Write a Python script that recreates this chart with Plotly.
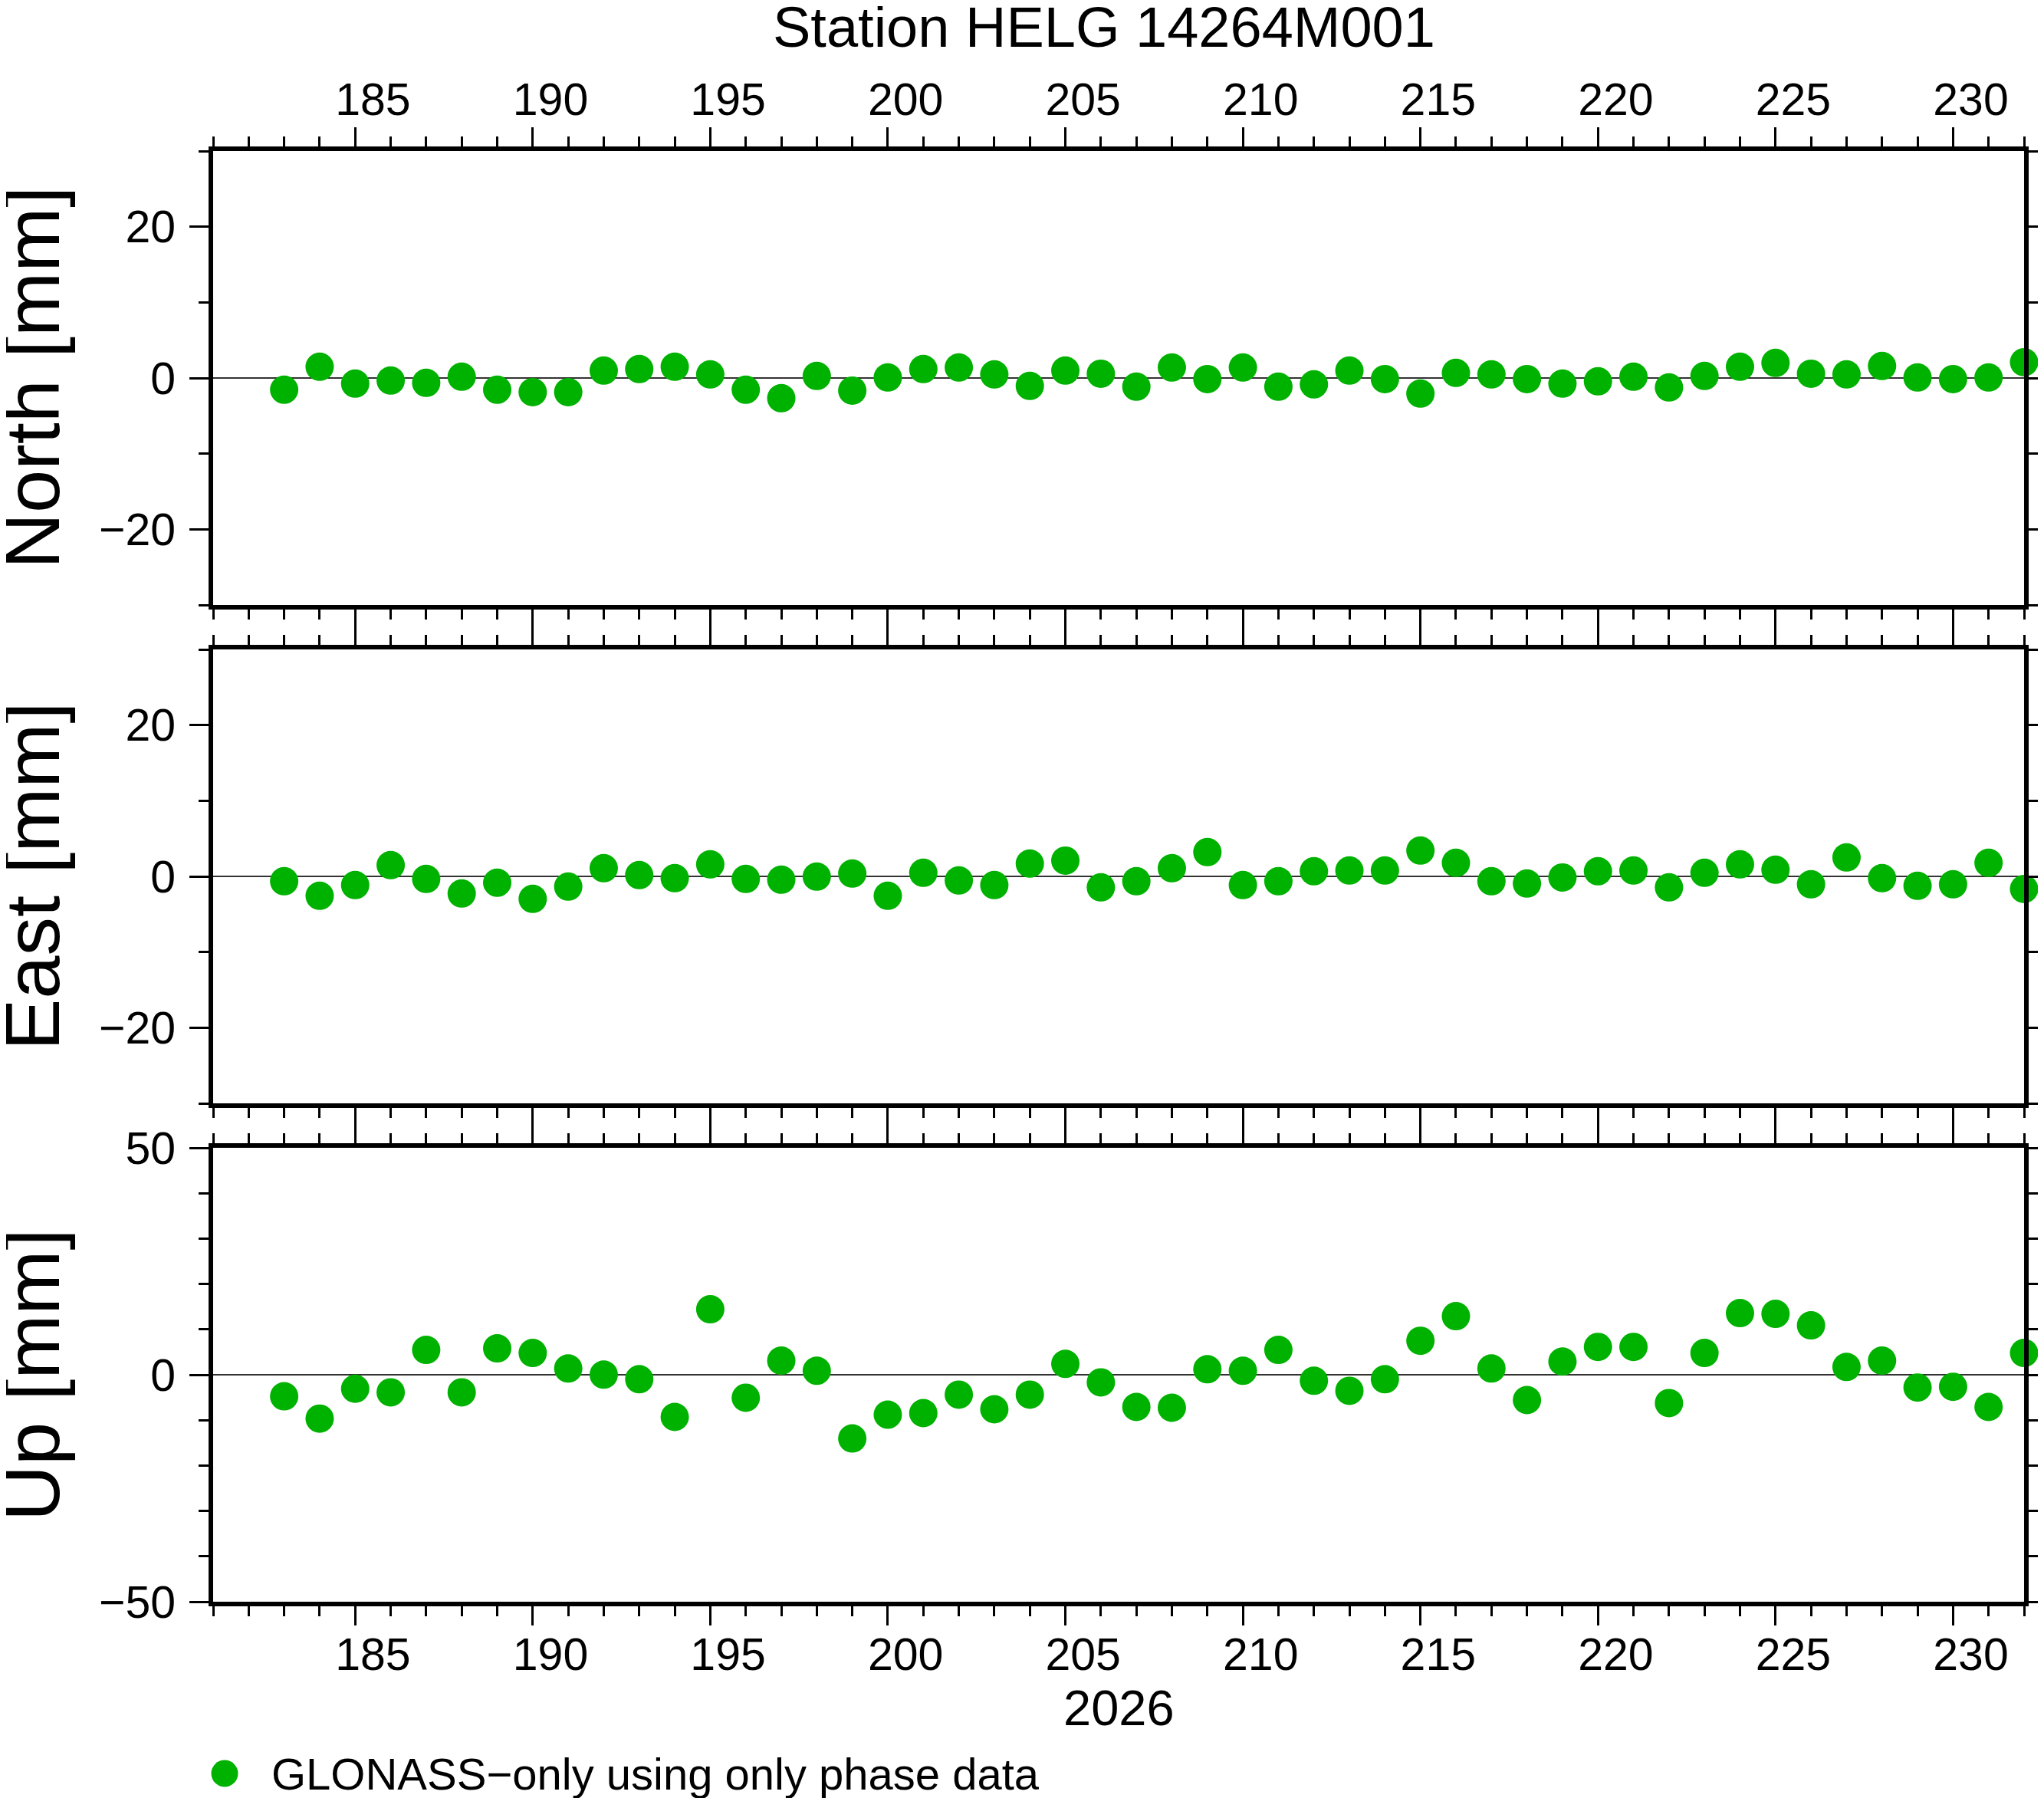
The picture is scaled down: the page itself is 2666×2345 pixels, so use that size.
import plotly.graph_objects as go

# ---- data ----
days = [183, 184, 185, 186, 187, 188, 189, 190, 191, 192, 193, 194, 195, 196, 197, 198,
        199, 200, 201, 202, 203, 204, 205, 206, 207, 208, 209, 210, 211, 212, 213, 214, 215,
        216, 217, 218, 219, 220, 221, 222, 223, 224, 225, 226, 227, 228, 229, 230, 231, 232]

north = [-1.55, 1.49, -0.74, -0.34, -0.64, 0.17, -1.55, -1.87, -1.87, 0.98, 1.18, 1.49, 0.47, -1.55, -2.67, 0.27,
         -1.66, 0.07, 1.18, 1.39, 0.47, -1.05, 0.98, 0.57, -1.15, 1.39, -0.14, 1.39, -1.15, -0.84, 0.98, -0.14, -2.06,
         0.68, 0.47, -0.14, -0.74, -0.44, 0.17, -1.25, 0.27, 1.49, 1.99, 0.57, 0.47, 1.59, 0.07, -0.14, 0.07, 2.09]

east = [-0.64, -2.57, -1.15, 1.49, -0.34, -2.26, -0.84, -2.97, -1.35, 1.08, 0.17, -0.24, 1.59, -0.34, -0.44, -0.03,
        0.37, -2.57, 0.47, -0.54, -1.15, 1.69, 2.09, -1.45, -0.64, 1.08, 3.21, -1.15, -0.64, 0.68, 0.78, 0.78, 3.41,
        1.79, -0.64, -0.95, -0.14, 0.68, 0.78, -1.45, 0.47, 1.59, 0.88, -1.05, 2.50, -0.24, -1.25, -1.05, 1.79, -1.66]

up = [-4.75, -9.66, -3.08, -3.87, 5.48, -3.87, 5.82, 4.80, 1.38, 0.03, -0.99, -9.29, 14.43, -5.06, 3.11, 0.88,
      -14.04, -8.79, -8.45, -4.38, -7.60, -4.38, 2.40, -1.67, -7.09, -7.26, 1.21, 0.88, 5.48, -1.33, -3.53, -0.99, 7.49,
      12.91, 1.38, -5.57, 2.91, 6.13, 6.13, -6.24, 4.80, 13.59, 13.42, 10.88, 1.72, 3.11, -2.82, -2.65, -7.09, 4.80]

# day labels (GMT-style: each label is centred in its day interval)
x_tick_labels = [185, 190, 195, 200, 205, 210, 215, 220, 225, 230]

panel_titles = ["North [mm]", "East [mm]", "Up [mm]"]
title_text = "Station HELG 14264M001"
xlabel_text = "2026"
legend_text = "GLONASS\u2212only using only phase data"
x_range = [181, 232]
ne_range = [-30, 30]
up_range = [-50, 50]

# ---- layout geometry (target page pixels; page body has an 8px offset) ----
OFF = 8
W, H = 2666 - OFF, 2345 - OFF
XL, XR = 278 - OFF, 2640 - OFF
panels_px = [(197 - OFF, 789 - OFF), (847 - OFF, 1439 - OFF), (1497 - OFF, 2089 - OFF)]
FONT = "Liberation Sans, Arial, Helvetica, sans-serif"
GREEN = "rgb(0,178,0)"


def ydom(top, bot):
    return [1 - bot / H, 1 - top / H]


fig = go.Figure()
series = [north, east, up]
for i, vals in enumerate(series):
    fig.add_trace(go.Scatter(
        x=days, y=vals, mode="markers",
        marker=dict(size=37, color=GREEN, line=dict(width=0)),
        cliponaxis=False, showlegend=False, hoverinfo="x+y",
        xaxis="x" if i == 0 else f"x{i+1}",
        yaxis="y" if i == 0 else f"y{i+1}",
    ))
# empty traces so the label-only overlay axes get their subplots
fig.add_trace(go.Scatter(x=[], y=[], xaxis="x4", yaxis="y", showlegend=False))
fig.add_trace(go.Scatter(x=[], y=[], xaxis="x5", yaxis="y3", showlegend=False))

tickfont = dict(family=FONT, size=59, color="black")

common_x = dict(
    range=x_range, tick0=185, dtick=5, ticks="outside", ticklen=25, tickwidth=3,
    tickcolor="black", showline=True, linewidth=6, linecolor="black", mirror="ticks",
    showgrid=False, zeroline=False, showticklabels=False, automargin=False,
    minor=dict(dtick=1, tick0=181, ticks="outside", ticklen=13, tickwidth=3,
               tickcolor="black", showgrid=False),
    domain=[XL / W, XR / W],
)


def label_x(tlen):
    return dict(
        range=x_range, tickmode="array",
        tickvals=[v + 0.5 for v in x_tick_labels], ticktext=[str(v) for v in x_tick_labels],
        ticks="outside", ticklen=tlen, tickwidth=1, tickcolor="rgba(0,0,0,0)",
        showline=False, showgrid=False, zeroline=False, tickfont=tickfont, automargin=False,
    )


def common_y(rng, dtick):
    return dict(
        range=rng, tick0=0, dtick=dtick, ticks="outside", ticklen=25, tickwidth=3,
        tickcolor="black", showline=True, linewidth=6, linecolor="black", mirror="ticks",
        showgrid=False, zeroline=True, zerolinecolor="#333333", zerolinewidth=1.5,
        tickfont=tickfont, automargin=False, ticklabelstandoff=6,
        minor=dict(dtick=10, tick0=0, ticks="outside", ticklen=13, tickwidth=3,
                   tickcolor="black", showgrid=False),
    )


layout = dict(
    width=W, height=H, margin=dict(l=0, r=0, t=0, b=0, pad=0, autoexpand=False),
    paper_bgcolor="white", plot_bgcolor="white",
    showlegend=False,
    xaxis=dict(common_x, anchor="y", side="top"),
    xaxis2=dict(common_x, anchor="y2", matches="x"),
    xaxis3=dict(common_x, anchor="y3", matches="x", side="bottom"),
    xaxis4=dict(label_x(22), overlaying="x", anchor="y", side="top"),
    xaxis5=dict(label_x(17), overlaying="x3", anchor="y3", side="bottom"),
    yaxis=dict(common_y(ne_range, 20), domain=ydom(*panels_px[0]), anchor="x"),
    yaxis2=dict(common_y(ne_range, 20), domain=ydom(*panels_px[1]), anchor="x2"),
    yaxis3=dict(common_y(up_range, 50), domain=ydom(*panels_px[2]), anchor="x3"),
)
fig.update_layout(**layout)

annotations = []
for i, t in enumerate(panel_titles):
    top, bot = panels_px[i]
    annotations.append(dict(
        text=t, x=34 / W, y=1 - (top + bot) / 2 / H, xref="paper", yref="paper",
        xanchor="center", yanchor="middle", textangle=-90, showarrow=False,
        font=dict(family=FONT, size=101, color="black"),
    ))
annotations.append(dict(
    text=title_text, x=(1440 - OFF) / W, y=1 - (35 - OFF) / H, xref="paper", yref="paper",
    xanchor="center", yanchor="middle", showarrow=False,
    font=dict(family=FONT, size=74, color="black"),
))
annotations.append(dict(
    text=xlabel_text, x=(XL + XR) / 2 / W, y=1 - (2227 - OFF) / H, xref="paper", yref="paper",
    xanchor="center", yanchor="middle", showarrow=False,
    font=dict(family=FONT, size=65, color="black"),
))
annotations.append(dict(
    text=legend_text, x=(352 - OFF) / W, y=1 - (2313 - OFF) / H, xref="paper", yref="paper",
    xanchor="left", yanchor="middle", showarrow=False,
    font=dict(family=FONT, size=58, color="black"),
))
fig.update_layout(annotations=annotations)

# legend symbol
r = 17.5
cx, cy = 293 - OFF, 2313 - OFF
fig.add_shape(type="circle", xref="paper", yref="paper",
              x0=(cx - r) / W, x1=(cx + r) / W, y0=1 - (cy + r) / H, y1=1 - (cy - r) / H,
              fillcolor=GREEN, line=dict(width=0))

fig.write_html("out.html")
